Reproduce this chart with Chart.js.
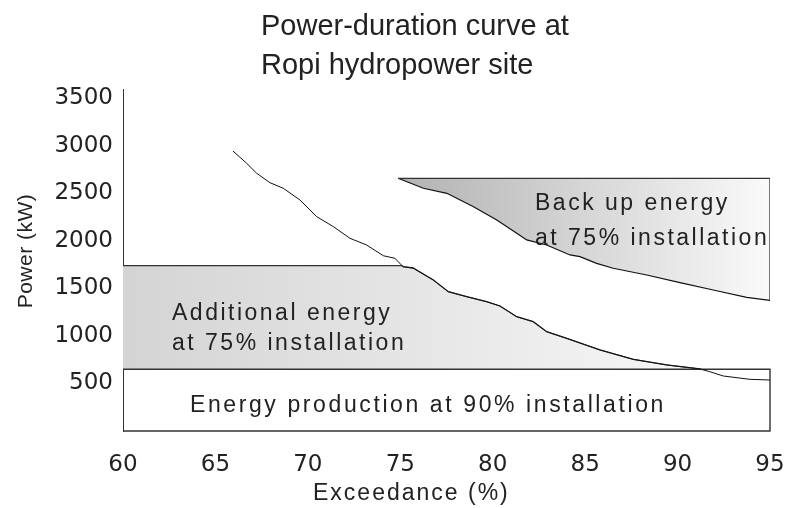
<!DOCTYPE html>
<html>
<head>
<meta charset="utf-8">
<script src="https://cdn.jsdelivr.net/npm/chart.js@4.4.1/dist/chart.umd.min.js"></script>
<style>
  html, body { margin: 0; padding: 0; background: #fff; }
  #wrap { width: 788px; height: 508px; }
</style>
</head>
<body>
<div id="wrap"><canvas id="chart" width="788" height="508"></canvas></div>
<script>
// ---- data ----
const xTicks = [60, 65, 70, 75, 80, 85, 90, 95];
const yTicks = [500, 1000, 1500, 2000, 2500, 3000, 3500];

// power-duration curve (exceedance %, kW)
const curveX = [65.95, 66.69, 67.23, 67.95, 68.67, 69.57, 70.48, 71.38, 72.28, 73.18, 74.08, 74.71, 75.15, 75.69, 76.79, 77.60, 78.59, 79.67, 80.39, 81.30, 82.19, 82.92, 84.00, 85.80, 87.60, 89.41, 91.21, 91.75, 92.47, 93.91, 95.00];
const curveY = [2947, 2818, 2713, 2614, 2555, 2432, 2256, 2151, 2028, 1958, 1845, 1818, 1729, 1716, 1589, 1466, 1414, 1361, 1316, 1203, 1151, 1045, 976, 853, 755, 695, 653, 624, 579, 544, 537];

// lower edge of back-up energy area
const backupX = [74.88, 76.25, 77.52, 78.96, 80.22, 81.30, 81.84, 82.92, 84.18, 84.72, 85.62, 86.52, 88.33, 90.13, 91.93, 93.74, 95.00];
const backupY = [2660, 2555, 2502, 2361, 2221, 2081, 2011, 1958, 1853, 1835, 1765, 1713, 1642, 1561, 1484, 1407, 1375];

// installation levels (kW)
const level90 = 650;
const level75 = 1740;
const backupTop = 2660;

const xMin = 60, xMax = 95;

// ---- build shapes from the data ----
const curvePts = curveX.map((x, i) => ({ x, y: curveY[i] }));
const backupPts = backupX.map((x, i) => ({ x, y: backupY[i] }));

// where the curve crosses a level
function crossX(level) {
    for (let i = 1; i < curvePts.length; i++) {
        const a = curvePts[i - 1], b = curvePts[i];
        if (a.y >= level && b.y <= level) {
            return a.x + (b.x - a.x) * (a.y - level) / (a.y - b.y);
        }
    }
    return xMax;
}
const x75 = crossX(level75);
const x90 = crossX(level90);

const additionalPts = [{ x: xMin, y: level75 }, { x: x75, y: level75 }]
    .concat(curvePts.filter(p => p.x > x75 && p.x < x90))
    .concat([{ x: x90, y: level90 }]);

const backupFrame = [
    { x: backupX[0], y: backupTop },
    { x: xMax, y: backupTop },
    { x: xMax, y: backupY[backupY.length - 1] }
];

const baseBox = [
    { x: xMin, y: level90 },
    { x: xMax, y: level90 },
    { x: xMax, y: 0 },
    { x: xMin, y: 0 }
];

function hGradient(c, x0, x1, stops) {
    const { chart } = c;
    if (!chart.chartArea) return stops[0];
    const sx = chart.scales.x;
    const g = chart.ctx.createLinearGradient(sx.getPixelForValue(x0), 0, sx.getPixelForValue(x1), 0);
    g.addColorStop(0, stops[0]);
    g.addColorStop(1, stops[1]);
    return g;
}

// ---- texts drawn on top ----
const textPlugin = {
    id: "texts",
    afterDatasetsDraw(chart) {
        const ctx = chart.ctx;
        ctx.save();
        ctx.fillStyle = "#222";
        ctx.textAlign = "left";
        ctx.textBaseline = "alphabetic";
        ctx.font = "23px 'Liberation Sans', Arial, sans-serif";
        ctx.letterSpacing = "2.5px";
        ctx.fillText("Back up energy", 535, 210);
        ctx.fillText("at 75% installation", 535, 245);
        ctx.fillText("Additional energy", 172, 320);
        ctx.fillText("at 75% installation", 172, 350);
        ctx.letterSpacing = "2.6px";
        ctx.fillText("Energy production at 90% installation", 190, 412);
        ctx.restore();
    },
    afterDraw(chart) {
        const ctx = chart.ctx;
        ctx.save();
        ctx.fillStyle = "#222";
        ctx.textAlign = "left";
        ctx.textBaseline = "alphabetic";
        ctx.font = "29px 'Liberation Sans', Arial, sans-serif";
        ctx.letterSpacing = "0px";
        ctx.fillText("Power-duration curve at", 261, 35);
        ctx.fillText("Ropi hydropower site", 261, 74);

        ctx.font = "23px 'Liberation Sans', Arial, sans-serif";
        ctx.letterSpacing = "2px";
        ctx.fillText("Exceedance (%)", 313, 500);

        ctx.translate(32, 251);
        ctx.rotate(-Math.PI / 2);
        ctx.textAlign = "center";
        ctx.font = "21px 'Liberation Sans', Arial, sans-serif";
        ctx.letterSpacing = "0.5px";
        ctx.fillText("Power (kW)", 0, 0);
        ctx.restore();
    }
};

const tickFont = { family: "'DejaVu Sans', sans-serif", size: 23 };

new Chart(document.getElementById("chart"), {
    type: "line",
    data: {
        datasets: [
            {
                label: "Power-duration curve",
                data: curvePts,
                borderColor: "#111",
                borderWidth: 1,
                pointRadius: 0,
                fill: false,
                tension: 0,
                order: 0
            },
            {
                label: "Back up frame",
                data: backupFrame,
                borderColor: "#333",
                borderWidth: 1.3,
                pointRadius: 0,
                fill: false,
                order: 1
            },
            {
                label: "Back up energy",
                data: backupPts,
                borderColor: "#111",
                borderWidth: 1.2,
                pointRadius: 0,
                fill: { value: backupTop },
                backgroundColor: c => hGradient(c, 75, 95, ["#b2b2b2", "#fafafa"]),
                order: 2
            },
            {
                label: "Energy production at 90%",
                data: baseBox,
                borderColor: "#333",
                borderWidth: 1.4,
                pointRadius: 0,
                fill: false,
                clip: 4,
                order: 1
            },
            {
                label: "Additional energy",
                data: additionalPts,
                borderColor: "#333",
                borderWidth: 1.3,
                pointRadius: 0,
                fill: { value: level90 },
                backgroundColor: c => hGradient(c, 60, 92, ["#d4d4d4", "#f8f8f8"]),
                order: 3
            }
        ]
    },
    options: {
        responsive: false,
        animation: false,
        layout: { padding: { top: 89, right: 18, bottom: 0, left: 0 } },
        plugins: {
            legend: { display: false },
            title: { display: false },
            tooltip: { enabled: false }
        },
        scales: {
            x: {
                type: "linear",
                min: xMin,
                max: xMax,
                afterBuildTicks: s => { s.ticks = xTicks.map(v => ({ value: v })); },
                afterFit: s => { s.height = 77; s.paddingLeft = 0; s.paddingRight = 0; },
                grid: { display: false, drawTicks: false },
                border: { display: false },
                ticks: { font: tickFont, color: "#222", padding: 20, maxRotation: 0, callback: v => String(v) }
            },
            y: {
                type: "linear",
                min: 0,
                max: 3600,
                afterBuildTicks: s => { s.ticks = yTicks.map(v => ({ value: v })); },
                afterFit: s => { s.width = 123; },
                grid: { display: false, drawTicks: false },
                border: { display: true, color: "#333", width: 1 },
                ticks: { font: tickFont, color: "#222", padding: 10, callback: v => String(v) }
            }
        }
    },
    plugins: [textPlugin]
});
</script>
</body>
</html>
